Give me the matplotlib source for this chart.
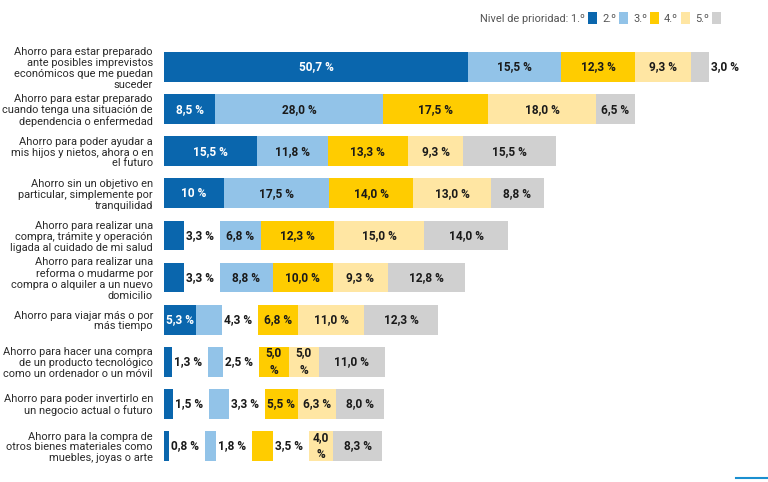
import matplotlib
matplotlib.use("Agg")
import matplotlib.pyplot as plt
from matplotlib.patches import Patch
from matplotlib.lines import Line2D

plt.rcParams['font.family'] = ['Roboto', 'DejaVu Sans']

categories = [
    "Ahorro para estar preparado\nante posibles imprevistos\neconómicos que me puedan\nsuceder",
    "Ahorro para estar preparado\ncuando tenga una situación de\ndependencia o enfermedad",
    "Ahorro para poder ayudar a\nmis hijos y nietos, ahora o en\nel futuro",
    "Ahorro sin un objetivo en\nparticular, simplemente por\ntranquilidad",
    "Ahorro para realizar una\ncompra, trámite y operación\nligada al cuidado de mi salud",
    "Ahorro para realizar una\nreforma o mudarme por\ncompra o alquiler a un nuevo\ndomicilio",
    "Ahorro para viajar más o por\nmás tiempo",
    "Ahorro para hacer una compra\nde un producto tecnológico\ncomo un ordenador o un móvil",
    "Ahorro para poder invertirlo en\nun negocio actual o futuro",
    "Ahorro para la compra de\notros bienes materiales como\nmuebles, joyas o arte",
]

p1 = [50.7, 8.5, 15.5, 10.0, 3.3, 3.3, 5.3, 1.3, 1.5, 0.8]
p2 = [15.5, 28.0, 11.8, 17.5, 6.8, 8.8, 4.3, 2.5, 3.3, 1.8]
p3 = [12.3, 17.5, 13.3, 14.0, 12.3, 10.0, 6.8, 5.0, 5.5, 3.5]
p4 = [9.3, 18.0, 9.3, 13.0, 15.0, 9.3, 11.0, 5.0, 6.3, 4.0]
p5 = [3.0, 6.5, 15.5, 8.8, 14.0, 12.8, 12.3, 11.0, 8.0, 8.3]

levels = ["Nivel de prioridad: 1.º", "2.º", "3.º", "4.º", "5.º"]
colors = ["#0a66ad", "#92c3e8", "#ffcc00", "#ffe6a3", "#d0d0d0"]

# label placement: i = inside, w = inside wrapped, o = outside (after the segment)
modes = ["iiiio", "iiiii", "iiiii", "iiiii", "oiiii",
         "oiiii", "ioiii", "oowwi", "ooiii", "ooowi"]
overrides = {(3, 0): "10 %"}
gap = 6.0

def fmt(v):
    return f"{v:.1f}".replace(".", ",") + " %"

fig = plt.figure(figsize=(7.68, 4.82), dpi=100)
ax = fig.add_axes([164 / 768, 15 / 482, 600 / 768, 421 / 482])

series = [p1, p2, p3, p4, p5]
for r in range(len(categories)):
    left = 0.0
    for k in range(5):
        v = series[k][r]
        ax.barh(r, v, left=left, height=0.71, color=colors[k], linewidth=0)
        lab = overrides.get((r, k), fmt(v))
        m = modes[r][k]
        tc = "white" if k == 0 else "#1a1a1a"
        if m == "i":
            ax.text(left + v / 2, r, lab, ha="center", va="center",
                    fontsize=8.6, fontweight="bold", color=tc)
            left += v
        elif m == "w":
            ax.text(left + v / 2, r, lab.replace(" ", "\n"), ha="center",
                    va="center", fontsize=8.6, fontweight="bold", color=tc,
                    linespacing=1.45)
            left += v
        else:
            ax.text(left + v + 0.4, r, lab, ha="left", va="center",
                    fontsize=8.6, fontweight="bold", color="#1a1a1a")
            left += v + gap

ax.set_xlim(0, 100)
ax.set_ylim(len(categories) - 0.5, -0.5)
ax.set_yticks(range(len(categories)))
ax.set_yticklabels(categories, fontsize=7.9, color="#2b2b2b")
for t in ax.get_yticklabels():
    t.set_linespacing(1.1)
ax.tick_params(axis="y", length=0, pad=8)
ax.set_xticks([])
for s in ax.spines.values():
    s.set_visible(False)

handles = [Patch(facecolor=c, edgecolor="none") for c in colors]
fig.legend(handles, levels, loc="center right", bbox_to_anchor=(726 / 768, 1 - 18 / 482),
           ncol=5, markerfirst=False, frameon=False, fontsize=7.9,
           handlelength=0.75, handleheight=1.3, handletextpad=0.3,
           columnspacing=0.5, labelcolor="#555555", borderpad=0)

fig.add_artist(Line2D([736 / 768, 1.0], [4 / 482, 4 / 482], color="#1a8fd0", lw=1.5))

fig.savefig("out.png", dpi=100)
